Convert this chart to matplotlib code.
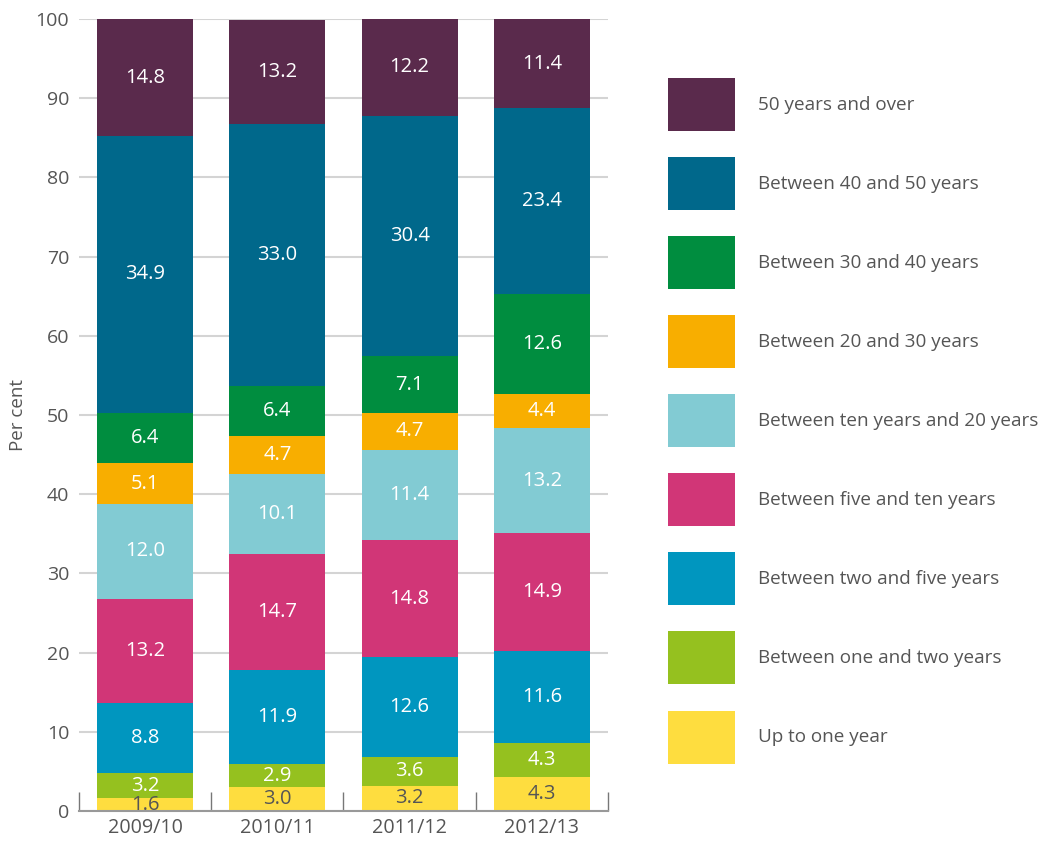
import numpy as np
import matplotlib.pyplot as plt
from matplotlib.patches import Patch

plt.rcParams['font.family'] = ['Open Sans', 'DejaVu Sans']

years = ['2009/10', '2010/11', '2011/12', '2012/13']
# bottom to top
groups = ['Up to one year', 'Between one and two years', 'Between two and five years',
          'Between five and ten years', 'Between ten years and 20 years',
          'Between 20 and 30 years', 'Between 30 and 40 years',
          'Between 40 and 50 years', '50 years and over']
up_to_one = [1.6, 3.0, 3.2, 4.3]
one_two = [3.2, 2.9, 3.6, 4.3]
two_five = [8.8, 11.9, 12.6, 11.6]
five_ten = [13.2, 14.7, 14.8, 14.9]
ten_twenty = [12.0, 10.1, 11.4, 13.2]
twenty_thirty = [5.1, 4.7, 4.7, 4.4]
thirty_forty = [6.4, 6.4, 7.1, 12.6]
forty_fifty = [34.9, 33.0, 30.4, 23.4]
fifty_over = [14.8, 13.2, 12.2, 11.4]
series = [up_to_one, one_two, two_five, five_ten, ten_twenty,
          twenty_thirty, thirty_forty, forty_fifty, fifty_over]
colors = ['#fedd3f', '#95c11f', '#0096bf', '#d13677', '#82cbd3',
          '#f8ae00', '#008d3f', '#00688b', '#5a2a4c']
label_colors = ['#555555'] + ['white'] * 8

grey = '#555555'
fig = plt.figure(figsize=(10.4, 8.43), dpi=100)
ax = fig.add_axes([79/1040, 32/843, 529/1040, 792/843])

x = np.arange(len(years))
bottom = np.zeros(len(years))
handles = []
for vals, col, lc, name in zip(series, colors, label_colors, groups):
    vals = np.array(vals)
    bars = ax.bar(x, vals, width=0.727, bottom=bottom, color=col, zorder=2)
    ax.bar_label(bars, labels=[f'{v:.1f}' for v in vals], label_type='center',
                 color=lc, fontsize=14.5)
    bottom += vals
    handles.append(Patch(facecolor=col, label=name))

ax.set_xlim(-0.5, 3.5)
ax.set_ylim(0, 100)
ax.set_yticks(range(0, 101, 10))
ax.yaxis.grid(True, color='#d4d4d4', linewidth=1.5, zorder=0)
ax.set_axisbelow(True)
ax.tick_params(axis='y', length=0, labelsize=14, labelcolor=grey, pad=7)
ax.set_xticks(x)
ax.set_xticklabels(years)
ax.tick_params(axis='x', which='major', length=0, labelsize=14.2, labelcolor=grey, pad=5)
ax.set_xticks(np.arange(-0.5, 4, 1), minor=True)
ax.tick_params(axis='x', which='minor', direction='in', length=14, width=1.0, color='#777777')
for s in ['top', 'right', 'left']:
    ax.spines[s].set_visible(False)
ax.spines['bottom'].set_color('#999999')
ax.spines['bottom'].set_linewidth(1.5)
ax.set_ylabel('Per cent', fontsize=13.5, color=grey, labelpad=6)

fig.legend(handles=handles[::-1], loc='upper left',
           bbox_to_anchor=(668/1040, 1 - 78/843), frameon=False,
           fontsize=13.6, handlelength=3.55, handleheight=3.94,
           labelspacing=1.38, handletextpad=1.22, borderpad=0, borderaxespad=0,
           labelcolor=grey)

fig.savefig('out.png', dpi=100)
